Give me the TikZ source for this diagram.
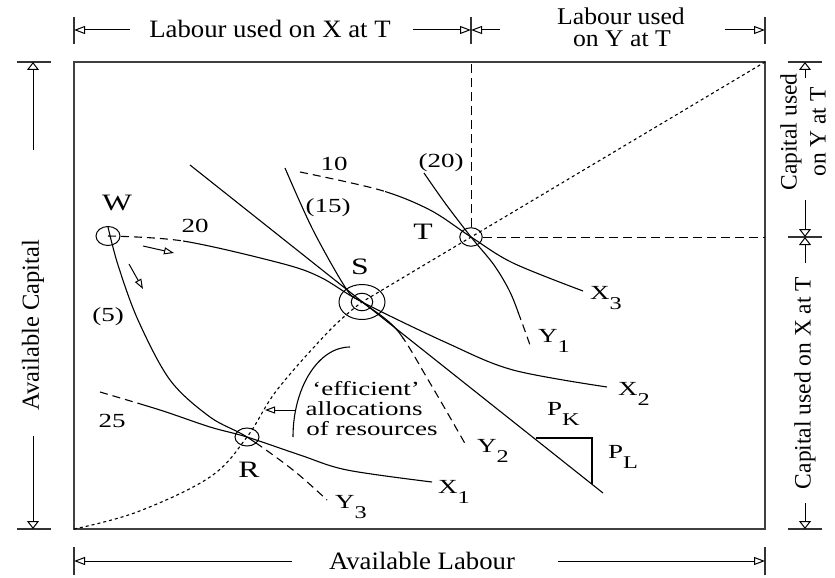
\documentclass[tikz,border=0pt]{standalone}
\usepackage{fontspec}
\setmainfont{Liberation Serif}
\newfontfamily\outerfont[FakeStretch=1.07]{Liberation Serif}
\newfontfamily\innerfont[FakeStretch=1.35]{Liberation Serif}
\newfontfamily\rotfont{Liberation Serif}
\usetikzlibrary{arrows.meta,shapes.geometric}
\newcommand{\sbs}[1]{\raisebox{-10pt}{\fontsize{18}{20}\selectfont #1}}
\begin{document}
\begin{tikzpicture}[x=1pt,y=-1pt,
 crv/.style={line width=1.1pt},
 dsh/.style={line width=1.1pt,dash pattern=on 8pt off 5pt},
 dshl/.style={line width=0.9pt,dash pattern=on 9pt off 5pt},
 dotl/.style={line width=1.1pt,dash pattern=on 3pt off 3pt},
 dimh/.style={line width=1pt,-{Triangle[open,length=11pt,width=8pt]}},
 dimv/.style={line width=1pt,-{Triangle[open,length=8pt,width=12pt]}},
 smarr/.style={line width=1pt,-{Triangle[open,length=10pt,width=7pt]}},
 tickl/.style={line width=1.2pt,black!80},
 ringc/.style={draw,ellipse,inner sep=0pt,line width=1pt},
 lbl/.style={font={\innerfont\fontsize{20}{22}\selectfont},inner sep=0pt,anchor=base},
 ptlbl/.style={font={\innerfont\fontsize{23.5}{26}\selectfont},inner sep=0pt,anchor=base},
 outlbl/.style={font={\outerfont\fontsize{25}{28}\selectfont},inner sep=0pt,anchor=base},
 outsm/.style={font={\outerfont\fontsize{24}{26}\selectfont},inner sep=0pt,anchor=base,text height=15pt,text depth=3pt},
 rotlbl/.style={font={\rotfont\fontsize{24.5}{27}\selectfont},inner sep=0pt,rotate=90},
 rotsm/.style={font={\rotfont\fontsize{23.5}{26}\selectfont},inner sep=0pt,rotate=90},
 pathA/.style={insert path={plot[smooth,tension=0.55] coordinates {(108,236) (183,241) (280,263) (320,277) (362,302) (447,343) (513,370) (607,387)}}},
 pathB/.style={insert path={plot[smooth,tension=0.55] coordinates {(285,168) (313,230) (347,290) (362,302) (397,330) (430,383) (467,447)}}},
 pathC/.style={insert path={plot[smooth,tension=0.55] coordinates {(300,172) (380,190) (430,210) (471,237) (513,263) (583,291)}}},
 pathD/.style={insert path={plot[smooth,tension=0.55] coordinates {(424,173) (445,203) (471,237) (494,265) (510,292) (521,320) (530,345)}}},
 pathE/.style={insert path={plot[smooth,tension=0.55] coordinates {(108,227) (118,265) (138,320) (170,380) (210,417) (247,437) (293,470) (327,500)}}},
 pathF/.style={insert path={plot[smooth,tension=0.55] coordinates {(100,392) (160,410) (210,427) (247,437) (300,455) (347,470) (432,482)}}},
]
\useasboundingbox (0,0) rectangle (835,578);
\fill[white] (0,0) rectangle (835,578);

% frame
\coordinate (BL) at (74,529);
\coordinate (TR) at (765,62);
\draw[line width=1.3pt,black!75] (74,62) rectangle (765,529);

% rings
\node[ringc,minimum width=24pt,minimum height=19pt] (W) at (108,236) {};
\node[ringc,minimum width=21.5pt,minimum height=17.5pt] (S) at (362,302) {};
\node[ringc,minimum width=46pt,minimum height=35pt] (S2) at (362,302) {};
\node[ringc,minimum width=22.5pt,minimum height=18.5pt] (T) at (471,237) {};
\node[ringc,minimum width=24pt,minimum height=18pt] (R) at (247,437) {};

% dashed guides from T
\coordinate (Ttop) at (471,62);
\coordinate (Tright) at (765,237);
\draw[dshl] (T) -- (Ttop);
\draw[dshl] (T) -- (Tright);

% contract curve (dotted)
\draw[dotl] plot[smooth,tension=0.6] coordinates {(74,529) (137,512) (210,477) (247,437) (277,390) (330,330) (362,302)} -- (TR);

% curve A (20 -> X2)
\begin{scope}\clip (0,0) rectangle (183,578); \draw[dsh,pathA]; \end{scope}
\begin{scope}\clip (183,0) rectangle (835,578); \draw[crv,pathA]; \end{scope}
% curve B ((15) -> Y2)
\begin{scope}\clip (0,0) rectangle (835,338); \draw[crv,pathB]; \end{scope}
\begin{scope}\clip (0,338) rectangle (835,578); \draw[dsh,pathB]; \end{scope}
% curve C (10 -> X3)
\begin{scope}\clip (0,0) rectangle (385,578); \draw[dsh,pathC]; \end{scope}
\begin{scope}\clip (385,0) rectangle (835,578); \draw[crv,pathC]; \end{scope}
% curve D ((20) -> Y1)
\begin{scope}\clip (0,0) rectangle (835,312); \draw[crv,pathD]; \end{scope}
\begin{scope}\clip (0,312) rectangle (835,578); \draw[dsh,pathD]; \end{scope}
% curve E ((5) -> Y3)
\begin{scope}\clip (0,0) rectangle (258,578); \draw[crv,pathE]; \end{scope}
\begin{scope}\clip (258,0) rectangle (835,578); \draw[dsh,pathE]; \end{scope}
% curve F (25 -> X1)
\begin{scope}\clip (0,0) rectangle (145,578); \draw[dsh,pathF]; \end{scope}
\begin{scope}\clip (145,0) rectangle (835,578); \draw[crv,pathF]; \end{scope}

% price line and slope triangle
\coordinate (PL1) at (190,165);
\coordinate (PL2) at (603,493);
\draw[crv] (PL1) -- (PL2);
\coordinate (TA) at (536,438);
\coordinate (TB) at (592,438);
\coordinate (TC) at (592,484);
\draw[crv] (TA) -- (TB) -- (TC);

% small arrows near W
\coordinate (a1s) at (143,246); \coordinate (a1e) at (174,253);
\coordinate (a2s) at (129,264); \coordinate (a2e) at (143,289);
\draw[smarr] (a1s) -- (a1e);
\draw[smarr] (a2s) -- (a2e);

% efficient allocations bracket
\draw[crv] (350,347) arc[start angle=-90,end angle=-180,x radius=57,y radius=90];
\coordinate (effA) at (296,410);
\coordinate (effB) at (265,410);
\draw[smarr] (effA) -- (effB);
\node[lbl] (eff1) at (366,395) {‘efficient’};
\node[lbl] (eff2) at (364,415) {allocations};
\node[lbl] (eff3) at (372,435) {of resources};

% point labels
\node[ptlbl] (lW) at (117,210) {W};
\node[ptlbl] (lT) at (423,239) {T};
\node[ptlbl] (lS) at (360,274) {S};
\node[ptlbl] (lR) at (249,477) {R};
\node[lbl] (l20) at (195,232) {20};
\node[lbl] (l5) at (108,321) {(5)};
\node[lbl] (l10) at (334,170) {10};
\node[lbl] (l15) at (328,212) {(15)};
\node[lbl] (l20b) at (441,167) {(20)};
\node[lbl] (l25) at (112,427) {25};
\node[lbl,anchor=base west] (lX1) at (438,493) {X\sbs{1}};
\node[lbl,anchor=base west] (lX2) at (618,395) {X\sbs{2}};
\node[lbl,anchor=base west] (lX3) at (590,299) {X\sbs{3}};
\node[lbl,anchor=base west] (lY1) at (538,342) {Y\sbs{1}};
\node[lbl,anchor=base west] (lY2) at (477,452) {Y\sbs{2}};
\node[lbl,anchor=base west] (lY3) at (335,508) {Y\sbs{3}};
\node[lbl,anchor=base west] (lPK) at (547,415) {P\sbs{K}};
\node[lbl,anchor=base west] (lPL) at (608,458) {P\sbs{L}};

% ---- dimension lines ----
% top
\coordinate (t1a) at (74,17); \coordinate (t1b) at (74,44);
\coordinate (t2a) at (471,17); \coordinate (t2b) at (471,44);
\coordinate (t3a) at (765,17); \coordinate (t3b) at (765,44);
\draw[tickl] (t1a) -- (t1b);
\draw[tickl] (t2a) -- (t2b);
\draw[tickl] (t3a) -- (t3b);
\node[outlbl] (tX) at (270,38) {Labour used on X at T};
\node[outsm] (tY1) at (621,25) {Labour used};
\node[outsm] (tY2) at (622,47) {on Y at T};
\coordinate (h1s) at (130,30); \coordinate (h1e) at (74,30);
\coordinate (h2s) at (413,30); \coordinate (h2e) at (471,30);
\coordinate (h3s) at (500,30); \coordinate (h3e) at (471,30);
\coordinate (h4s) at (725,30); \coordinate (h4e) at (765,30);
\draw[dimh] (h1s) -- (h1e);
\draw[dimh] (h2s) -- (h2e);
\draw[dimh] (h3s) -- (h3e);
\draw[dimh] (h4s) -- (h4e);
% bottom
\coordinate (b1a) at (74,547); \coordinate (b1b) at (74,575);
\coordinate (b2a) at (765,547); \coordinate (b2b) at (765,575);
\draw[tickl] (b1a) -- (b1b);
\draw[tickl] (b2a) -- (b2b);
\node[outlbl] (tL) at (422,569) {Available Labour};
\coordinate (h5s) at (292,561); \coordinate (h5e) at (74,561);
\coordinate (h6s) at (558,561); \coordinate (h6e) at (765,561);
\draw[dimh] (h5s) -- (h5e);
\draw[dimh] (h6s) -- (h6e);
% left
\coordinate (l1a) at (17,62); \coordinate (l1b) at (51,62);
\coordinate (l2a) at (17,529); \coordinate (l2b) at (51,529);
\draw[tickl] (l1a) -- (l1b);
\draw[tickl] (l2a) -- (l2b);
\node[rotlbl] (tK) at (33,325) {Available Capital};
\coordinate (v1s) at (33,150); \coordinate (v1e) at (33,62);
\coordinate (v2s) at (33,436); \coordinate (v2e) at (33,529);
\draw[dimv] (v1s) -- (v1e);
\draw[dimv] (v2s) -- (v2e);
% right
\coordinate (r1a) at (788,62); \coordinate (r1b) at (822,62);
\coordinate (r2a) at (788,237); \coordinate (r2b) at (822,237);
\coordinate (r3a) at (788,529); \coordinate (r3b) at (822,529);
\draw[tickl] (r1a) -- (r1b);
\draw[tickl] (r2a) -- (r2b);
\draw[tickl] (r3a) -- (r3b);
\node[rotsm] (tKY1) at (791,132) {Capital used};
\node[rotsm] (tKY2) at (818,132) {on Y at T};
\node[rotsm] (tKX) at (805,383) {Capital used on X at T};
\coordinate (v3s) at (805,78); \coordinate (v3e) at (805,62);
\coordinate (v4s) at (805,200); \coordinate (v4e) at (805,237);
\coordinate (v5s) at (805,263); \coordinate (v5e) at (805,237);
\coordinate (v6s) at (805,503); \coordinate (v6e) at (805,529);
\draw[dimv] (v3s) -- (v3e);
\draw[dimv] (v4s) -- (v4e);
\draw[dimv] (v5s) -- (v5e);
\draw[dimv] (v6s) -- (v6e);
\end{tikzpicture}
\end{document}
